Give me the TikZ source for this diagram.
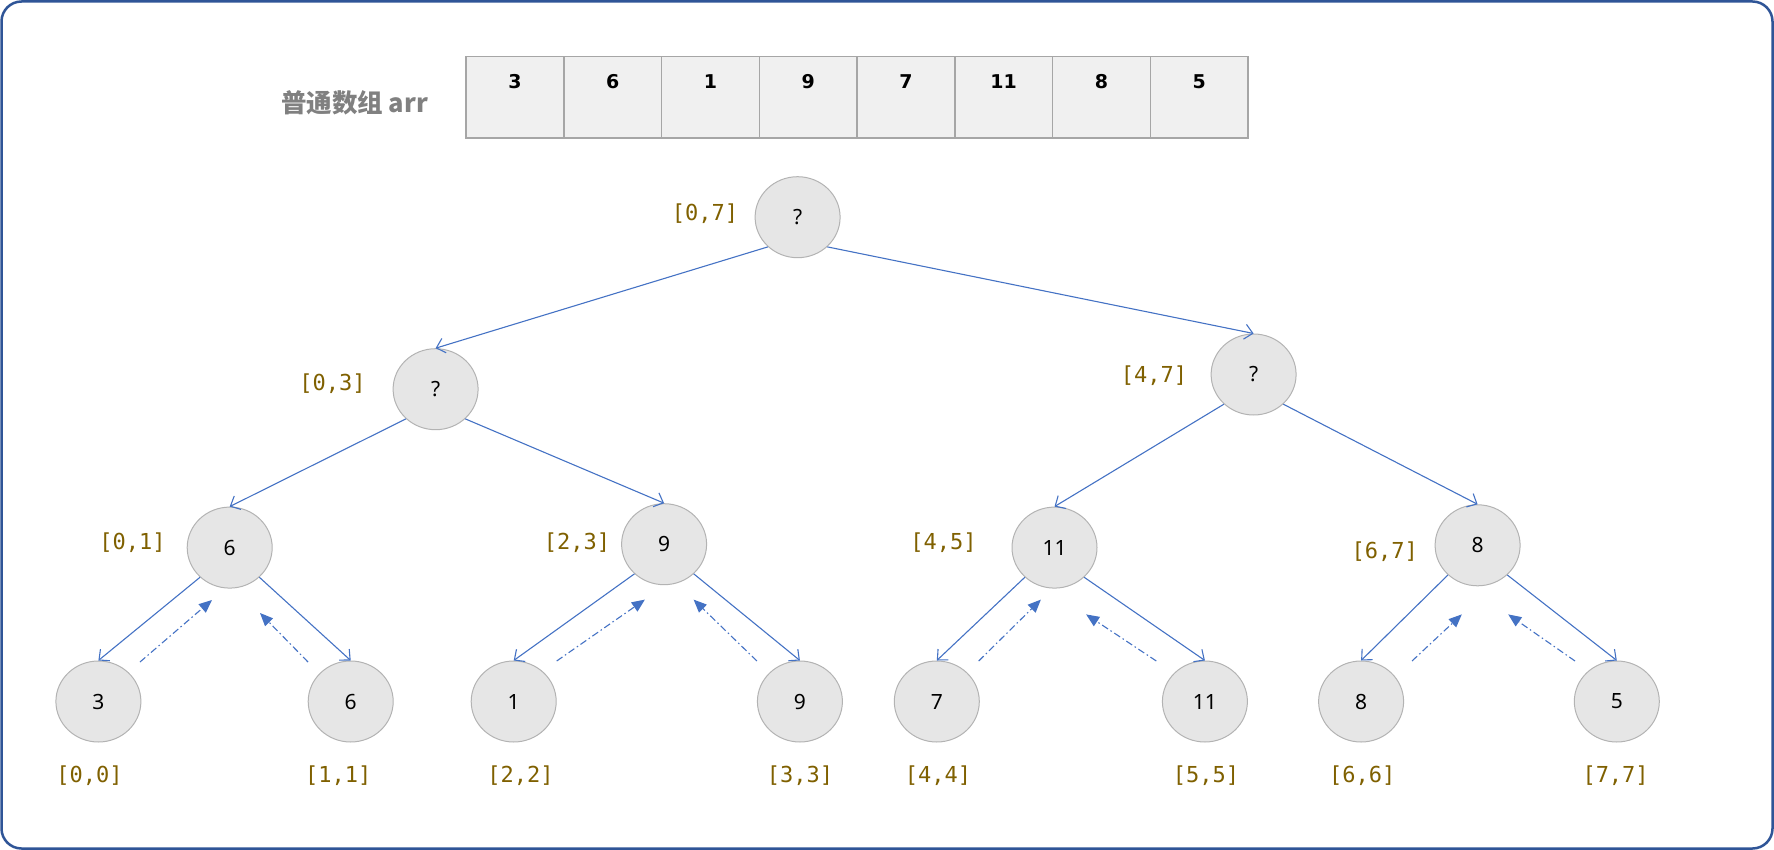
\documentclass[tikz,border=0pt]{standalone}
\usepackage{fontspec}
\setmainfont{Noto Sans}
\newfontfamily\cjkf{Noto Sans CJK SC}
\newfontfamily\monof{DejaVu Sans Mono}
\newfontfamily\arrf{DejaVu Sans}
\usetikzlibrary{arrows.meta,shapes.geometric}
\definecolor{frameblue}{HTML}{2F5597}
\definecolor{edgeblue}{HTML}{4472C4}
\definecolor{lblgold}{HTML}{7F6000}
\definecolor{nodefill}{HTML}{E6E6E6}
\definecolor{nodeline}{HTML}{B3B3B3}
\definecolor{cellfill}{HTML}{F0F0F0}
\definecolor{cellline}{HTML}{A6A6A6}
\definecolor{titlegray}{HTML}{808080}
\tikzset{
  tnode/.style={ellipse, draw=nodeline, fill=nodefill, line width=1pt,
    minimum width=85pt, minimum height=81pt, inner sep=0pt,
    font=\fontsize{21}{24}\selectfont},
  rng/.style={font=\monof\fontsize{22}{26}\selectfont, text=lblgold, inner sep=0pt},
  cellbox/.style={rectangle, draw=cellline, fill=cellfill, line width=1.5pt,
    minimum width=97.75pt, minimum height=81.4pt, inner sep=0pt},
  cellnum/.style={font=\arrf\bfseries\fontsize{19}{22}\selectfont, inner sep=0pt},
  down/.style={draw=edgeblue, line width=1.1pt, -{Straight Barb[length=8pt,width=15pt]}},
  up/.style={draw=edgeblue, line width=1.1pt, dash pattern=on 7pt off 3pt on 1.5pt off 3pt,
    -{Triangle[length=13pt,width=11pt]}}
}
\begin{document}
\begin{tikzpicture}[x=1pt,y=-1pt]
\useasboundingbox (0,0) rectangle (1774,850);
\draw[frameblue, line width=2.5pt, rounded corners=20pt] (1.5,1.5) rectangle (1772.5,848.5);

% title
\node[font=\cjkf\bfseries\fontsize{25.5}{28}\selectfont, text=titlegray, inner sep=0pt] (title) at (354.5,103) {普通数组 arr};

% array cells
\foreach \i/\v in {0/3,1/6,2/1,3/9,4/7,5/11,6/8,7/5}{
  \node[cellbox] (cell\i) at ({514.875+\i*97.75},97.3) {};
  \node[cellnum] (num\i) at ({514.875+\i*97.75},81.5) {\v};
}

% tree nodes
\node[tnode] (r)   at (797.6,217.2) {?};
\node[tnode] (a)   at (435.6,389.2) {?};
\node[tnode] (b)   at (1253.6,374.5) {?};
\node[tnode] (a1)  at (229.7,547.6) {6};
\node[tnode] (a2)  at (664.1,544.2) {9};
\node[tnode] (b1)  at (1054.5,547.6) {11};
\node[tnode] (b2)  at (1477.6,545.3) {8};
\node[tnode] (l0)  at (98.4,701.5) {3};
\node[tnode] (l1)  at (350.7,701.5) {6};
\node[tnode] (l2)  at (513.7,701.5) {1};
\node[tnode] (l3)  at (799.9,701.5) {9};
\node[tnode] (l4)  at (936.8,701.5) {7};
\node[tnode] (l5)  at (1204.9,701.5) {11};
\node[tnode] (l6)  at (1361.1,701.5) {8};
\node[tnode] (l7)  at (1616.8,701.5) {5};

% range labels
\node[rng] (tr)  at (704.9,213.8) {[0,7]};
\node[rng] (ta)  at (332.6,383.6) {[0,3]};
\node[rng] (tb)  at (1154,375.6) {[4,7]};
\node[rng] (ta1) at (132.4,543) {[0,1]};
\node[rng] (ta2) at (577,543) {[2,3]};
\node[rng] (tb1) at (943.6,543) {[4,5]};
\node[rng] (tb2) at (1384.8,552.1) {[6,7]};
\node[rng] (t0) at (89.4,776.1) {[0,0]};
\node[rng] (t1) at (338.3,776.1) {[1,1]};
\node[rng] (t2) at (520.4,776.1) {[2,2]};
\node[rng] (t3) at (799.9,776.1) {[3,3]};
\node[rng] (t4) at (938,776.1) {[4,4]};
\node[rng] (t5) at (1206,776.1) {[5,5]};
\node[rng] (t6) at (1362.2,776.1) {[6,6]};
\node[rng] (t7) at (1615.6,776.1) {[7,7]};

% downward edges
\draw[down] (r.-135) -- (a.north);
\draw[down] (r.-45) -- (b.north);
\draw[down] (a.-135) -- (a1.north);
\draw[down] (a.-45) -- (a2.north);
\draw[down] (b.-135) -- (b1.north);
\draw[down] (b.-45) -- (b2.north);
\draw[down] (a1.-135) -- (l0.north);
\draw[down] (a1.-45) -- (l1.north);
\draw[down] (a2.-135) -- (l2.north);
\draw[down] (a2.-45) -- (l3.north);
\draw[down] (b1.-135) -- (l4.north);
\draw[down] (b1.-45) -- (l5.north);
\draw[down] (b2.-135) -- (l6.north);
\draw[down] (b2.-45) -- (l7.north);

% upward return arrows
\coordinate (u0s) at (140,662);    \coordinate (u0e) at (212,600);
\coordinate (u1s) at (308,662);    \coordinate (u1e) at (260,613);
\coordinate (u2s) at (556.7,661);  \coordinate (u2e) at (644.9,599.6);
\coordinate (u3s) at (756.9,661);  \coordinate (u3e) at (693.6,599.6);
\coordinate (u4s) at (978.7,661);  \coordinate (u4e) at (1040.9,599.6);
\coordinate (u5s) at (1156.3,661); \coordinate (u5e) at (1086.1,614.4);
\coordinate (u6s) at (1412,661);   \coordinate (u6e) at (1461.8,614.4);
\coordinate (u7s) at (1575,661);   \coordinate (u7e) at (1508.2,614.4);
\foreach \k in {0,...,7}{
  \draw[up] (u\k s) -- (u\k e);
}
\end{tikzpicture}
\end{document}
